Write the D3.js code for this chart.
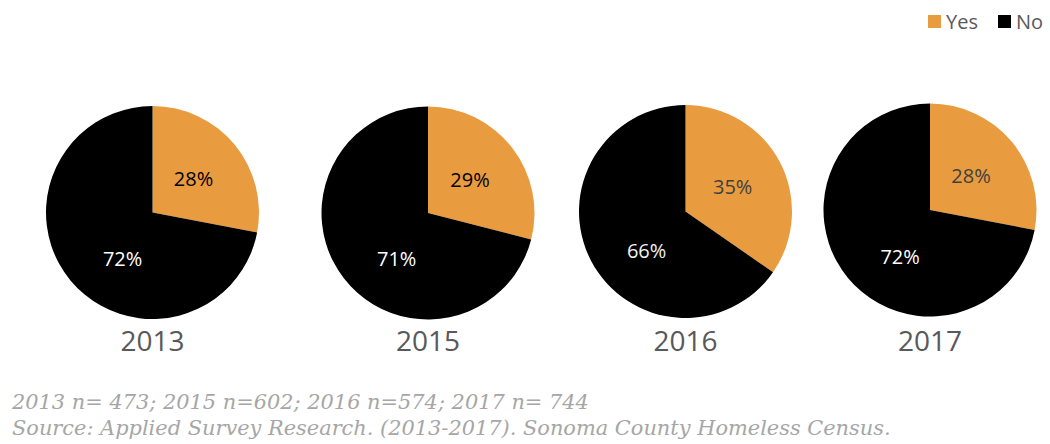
<html>
<head>
<script src="https://d3js.org/d3.v7.min.js"></script>
<style>
	body { margin: 0; background: #fff; }
	svg { display: block; }
	.year { font-family: "Open Sans", sans-serif; font-size: 28px; fill: #595959; }
	.pct { font-family: "Open Sans", sans-serif; font-size: 20px; }
	.legend { font-family: "Open Sans", sans-serif; font-size: 20px; fill: #595959; }
	.note { font-family: "DejaVu Serif", serif; font-style: italic; font-size: 20.9px; fill: #a6a6a6; }
</style>
</head>
<body>
<svg width="1050" height="444"></svg>
<script>
var years = ["2013", "2015", "2016", "2017"];
var yesValues = [28, 29, 35, 28];
var noValues = [72, 71, 66, 72];
var categories = ["Yes", "No"];
var notes = ["2013 n= 473; 2015 n=602; 2016 n=574; 2017 n= 744",
	"Source: Applied Survey Research. (2013-2017). Sonoma County Homeless Census."];

// label colours differ between the charts in the original
var yesText = ["#000", "#000", "#404040", "#404040"];
var noText = ["#fff", "#fff", "#f2f2f2", "#fff"];

var svg = d3.select("svg");
var color = d3.scaleOrdinal().domain(categories).range(["#e99b40", "#000000"]);

// pies are not evenly spaced in the original
var cx = d3.scaleOrdinal().domain(years).range([152.5, 428, 685.5, 930]);
var cy = d3.scaleOrdinal().domain(years).range([212.5, 213, 211.5, 210]);
var r = 106.5;

var pie = d3.pie().sort(null).value(function(d) { return d.v; });
var arc = d3.arc().innerRadius(0).outerRadius(r);

years.forEach(function(yr, i) {
	var data = [{k: "Yes", v: yesValues[i]}, {k: "No", v: noValues[i]}];
	var g = svg.append("g").attr("transform", "translate(" + cx(yr) + "," + cy(yr) + ")");
	var arcs = pie(data);

	g.selectAll("path").data(arcs).enter().append("path")
		.attr("d", arc)
		.attr("fill", function(d) { return color(d.data.k); });

	// excel pulls the big slice label a bit back toward 12 o'clock
	g.selectAll("text.pct").data(arcs).enter().append("text")
		.attr("class", "pct")
		.attr("text-anchor", "middle")
		.attr("dy", "0.35em")
		.attr("x", function(d, j) {
			var a = (d.startAngle + d.endAngle) / 2 - (j == 1 ? 0.31 : 0);
			return Math.sin(a) * r * (j == 1 ? 0.52 : 0.5);
		})
		.attr("y", function(d, j) {
			var a = (d.startAngle + d.endAngle) / 2 - (j == 1 ? 0.31 : 0);
			return -Math.cos(a) * r * (j == 1 ? 0.52 : 0.5);
		})
		.attr("fill", function(d, j) { return j == 0 ? yesText[i] : noText[i]; })
		.text(function(d) { return d.data.v + "%"; });

	svg.append("text")
		.attr("class", "year")
		.attr("text-anchor", "middle")
		.attr("x", cx(yr))
		.attr("y", 351)
		.text(yr);
});

// legend
var lg = svg.append("g").attr("transform", "translate(928,15)");
var lx = [0, 70];
categories.forEach(function(c, i) {
	lg.append("rect").attr("x", lx[i]).attr("y", 0).attr("width", 13).attr("height", 13).attr("fill", color(c));
	lg.append("text").attr("class", "legend").attr("x", lx[i] + 18).attr("y", 14).text(c);
});

svg.selectAll("text.note").data(notes).enter().append("text")
	.attr("class", "note")
	.attr("x", 12)
	.attr("y", function(d, i) { return 409 + i * 26; })
	.text(function(d) { return d; });
</script>
</body>
</html>
